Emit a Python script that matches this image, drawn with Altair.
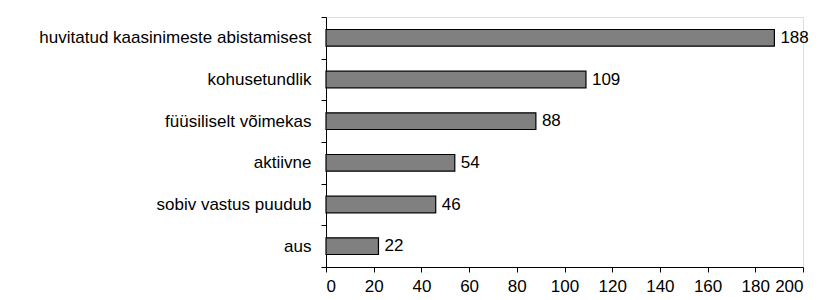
import altair as alt
import pandas as pd

categories = [
    "huvitatud kaasinimeste abistamisest",
    "kohusetundlik",
    "füüsiliselt võimekas",
    "aktiivne",
    "sobiv vastus puudub",
    "aus",
]
values = [188, 109, 88, 54, 46, 22]
x_ticks = [0, 20, 40, 60, 80, 100, 120, 140, 160, 180, 200]

df = pd.DataFrame({"cat": categories, "val": values})

FONT = "Liberation Sans"

y_enc = alt.Y(
    "cat:N",
    sort=categories,
    title=None,
    scale=alt.Scale(paddingInner=0, paddingOuter=0),
    axis=alt.Axis(
        tickBand="extent",
        tickSize=5,
        tickColor="black",
        domainColor="black",
        labelFont=FONT,
        labelFontSize=17,
        labelColor="black",
        labelPadding=10,
        labelLimit=400,
        minExtent=318,
        maxExtent=318,
    ),
)

x_enc = alt.X(
    "val:Q",
    title=None,
    scale=alt.Scale(domain=[0, 200], nice=False),
    axis=alt.Axis(
        values=x_ticks,
        grid=False,
        tickSize=5,
        tickColor="black",
        domainColor="black",
        labelFont=FONT,
        labelFontSize=17,
        labelColor="black",
        labelPadding=6,
    ),
)

bars = alt.Chart(df).mark_bar(
    color="#808080", stroke="black", strokeWidth=1.2, height={"band": 0.4}
).encode(x=x_enc, y=y_enc)

text = alt.Chart(df).mark_text(
    align="left", baseline="middle", dx=6, font=FONT, fontSize=17, color="black"
).encode(x=alt.X("val:Q"), y=alt.Y("cat:N", sort=categories), text="val:Q")

chart = (
    alt.layer(bars, text)
    .properties(width=477, height=250, padding={"left": 0, "top": 0, "right": 0, "bottom": 0})
    .configure_view(stroke=None)
    .configure(background="white")
)

chart.save("out.html", embed_options={"renderer": "svg", "actions": False})
